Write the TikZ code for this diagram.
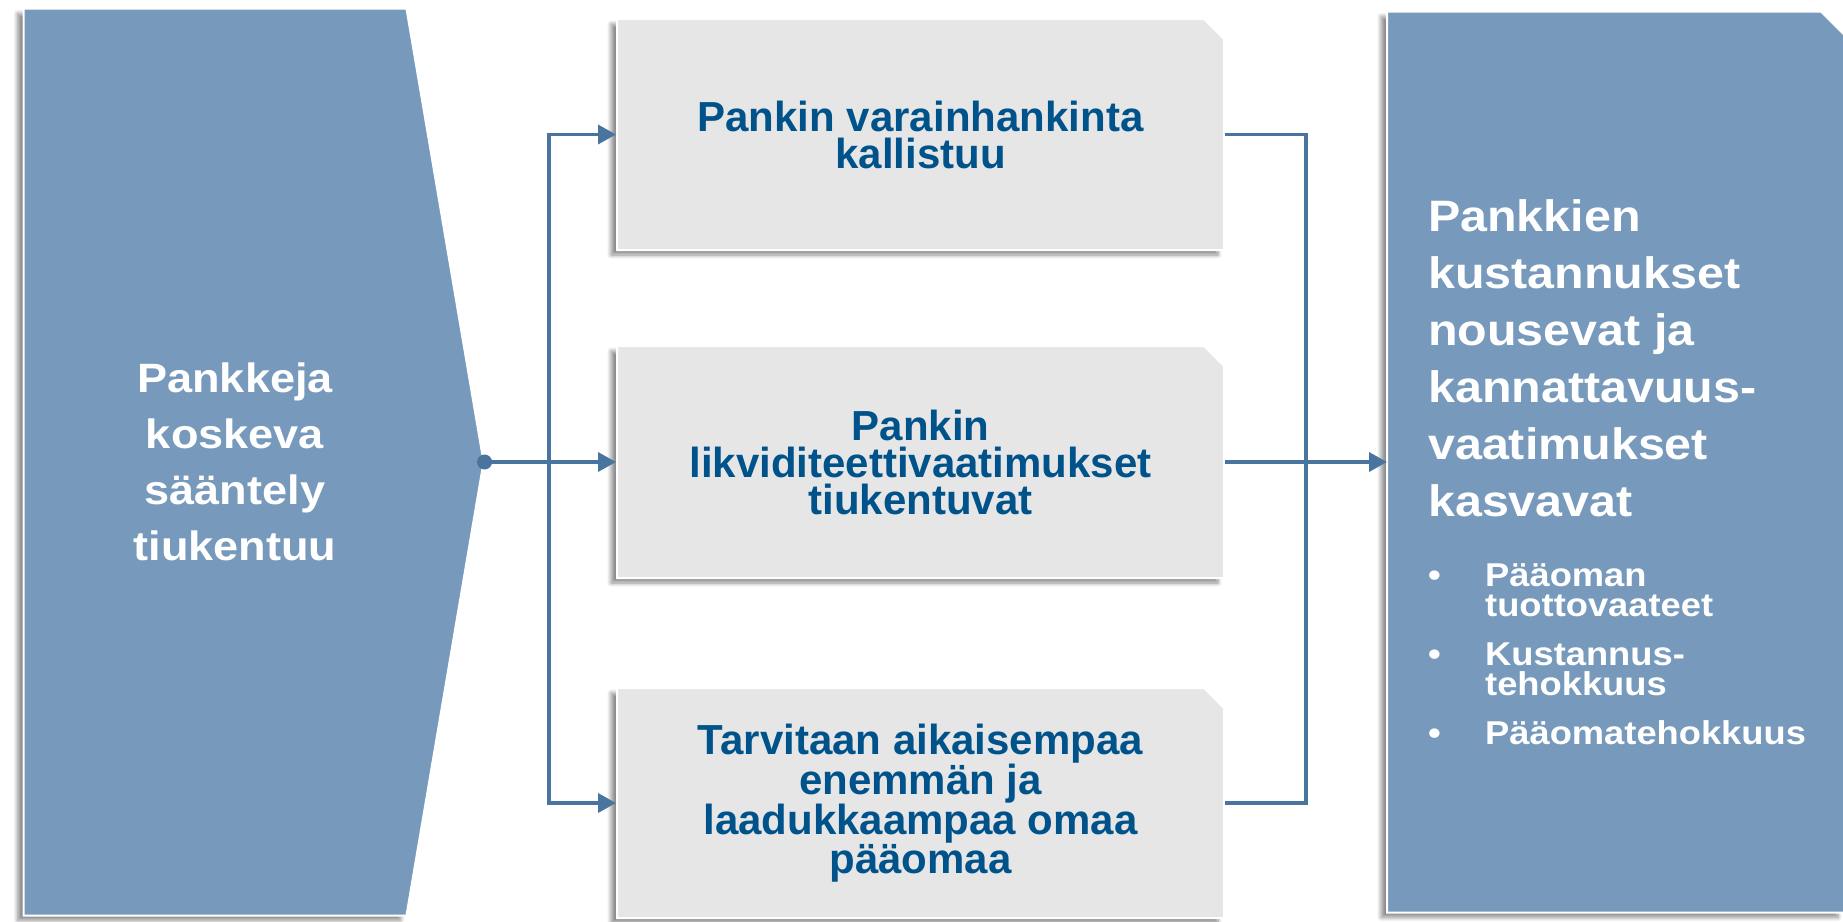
\documentclass[tikz,border=0pt]{standalone}
\usepackage{fontspec}
\setmainfont{Liberation Sans}
\newfontfamily\widefont[FakeStretch=1.1]{Liberation Sans}
\usetikzlibrary{shapes.misc,shapes.symbols,shadows.blur,arrows.meta,positioning}
\definecolor{steel}{HTML}{7699BC}
\definecolor{linkblue}{HTML}{4A74A0}
\definecolor{navytext}{HTML}{00528A}
\definecolor{boxgray}{HTML}{E6E6E6}
\newcommand{\bul}{\makebox[57pt][l]{•}}
\newcommand{\indt}{\makebox[57pt]{}}

\tikzset{
  boxshadow/.style={blur shadow={shadow xshift=-6pt,shadow yshift=-5pt,
    shadow blur radius=4pt,shadow blur steps=8,shadow opacity=45}},
  stepbox/.style={chamfered rectangle,chamfered rectangle corners=north east,
    chamfered rectangle xsep=10pt,chamfered rectangle ysep=10pt,
    fill=boxgray,draw=white,line width=2pt,boxshadow,
    minimum width=607pt,inner sep=0pt,align=center,text=navytext,
    font=\fontsize{42}{37}\selectfont\bfseries},
  bluepanel/.style={fill=steel,draw=white,line width=2pt,boxshadow},
  whitetext/.style={text=white,inner sep=0pt},
  link/.style={draw=linkblue,line width=3.5pt},
  arrowed/.style={-{Triangle[length=18pt,width=19pt]}},
  dotnode/.style={circle,fill=linkblue,inner sep=0pt,minimum size=15pt}
}

\begin{document}
\begin{tikzpicture}[x=1pt,y=-1pt]
      \useasboundingbox (0,0) rectangle (1843,921);

      \node[signal,signal to=east,signal pointer angle=160.7,bluepanel,
        minimum width=460pt,minimum height=907pt,inner sep=0pt] (rules) at (215,462) {};
      \node[whitetext,align=center,
        font=\fontsize{41}{56}\selectfont\widefont\bfseries] (rulestext) at (235,462)
        {Pankkeja\\koskeva\\sääntely\\tiukentuu};

      \node[stepbox,minimum height=231pt] (b1) at (920.5,134.5)
        {Pankin varainhankinta\\kallistuu};
      \node[stepbox,minimum height=232pt] (b2) at (920.5,462)
        {Pankin\\likviditeettivaatimukset\\tiukentuvat};
      \node[stepbox,minimum height=230pt] (b3) at (920.5,803)
        {Tarvitaan aikaisempaa\\enemmän ja\\laadukkaampaa omaa\\pääomaa};

      \node[minimum width=455pt,minimum height=899pt,inner sep=0pt,outer sep=1pt] (costs) at (1615.5,462) {};
      \draw[bluepanel] (costs.south west) -- (costs.north west) -- ([xshift=-23pt]costs.north east)
        -- ([yshift=-23pt]costs.north east) -- (costs.south east) -- cycle;
      \node[whitetext,align=left,anchor=north west,
        font=\fontsize{44}{57}\selectfont\widefont\bfseries] (coststitle) at (1428,199.5)
        {Pankkien\\kustannukset\\nousevat ja\\kannattavuus-\\vaatimukset\\kasvavat};
      \node[whitetext,align=left,anchor=north west,
        font=\fontsize{33}{30}\selectfont\widefont\bfseries] (costslist) at (1428,563)
        {\bul Pääoman\\\indt tuottovaateet\\[19pt]\bul Kustannus-\\\indt tehokkuus\\[19pt]\bul Pääomatehokkuus};

      \coordinate (splitL) at (549,462);
      \coordinate (splitR) at (1306,462);

      \draw[link,arrowed] (rules.east) -- (b2.west);
      \draw[link,arrowed] (splitL) |- (b1.west);
      \draw[link,arrowed] (splitL) |- (b3.west);
      \draw[link] (b1.east) -| (splitR) |- (b3.east);
      \draw[link,arrowed] (b2.east) -- (costs.west);
      \node[dotnode] (hub) at (rules.east) {};
\end{tikzpicture}
\end{document}
